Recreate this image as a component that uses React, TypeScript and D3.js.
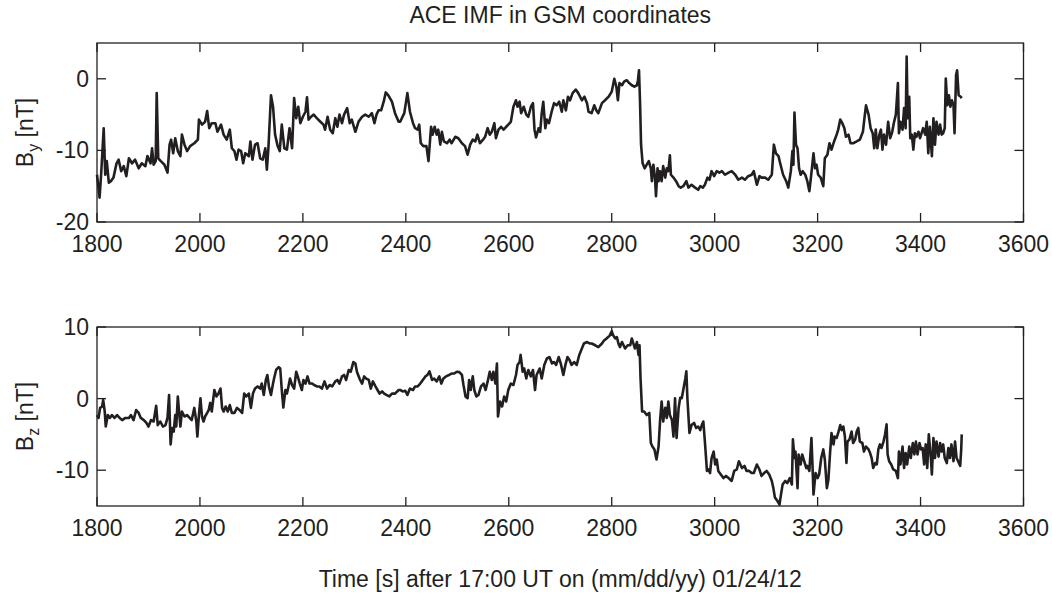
import React from "react";
import * as d3 from "d3";

const byTime = [1800,1805,1808,1813,1816,1819,1823,1827,1832,1838,1842,1847,1852,1857,1862,1868,1874,1881,1887,1894,1898,1904,1907,1910,1914,1916,1919,1924,1931,1937,1941,1944,1948,1952,1957,1962,1965,1970,1975,1981,1989,1996,1998,2004,2010,2014,2018,2023,2030,2034,2041,2046,2052,2058,2062,2067,2071,2075,2080,2084,2088,2095,2098,2102,2107,2112,2117,2122,2127,2130,2133,2138,2142,2146,2151,2155,2159,2164,2169,2174,2179,2183,2187,2191,2195,2200,2205,2208,2211,2216,2221,2227,2234,2240,2243,2248,2253,2258,2263,2267,2271,2276,2280,2286,2291,2295,2302,2308,2315,2321,2328,2334,2339,2343,2347,2352,2357,2361,2366,2373,2379,2386,
2389,2397,2403,2408,2414,2418,2423,2426,2429,2434,2440,2444,2449,2452,2456,2460,2463,2467,2470,2474,2480,2485,2489,2496,2502,2509,2515,2520,2525,2530,2535,2539,2544,2550,2554,2559,2563,2567,2572,2575,2580,2585,2590,2595,2599,2604,2609,2614,2617,2621,2624,2629,2634,2638,2643,2647,2650,2653,2658,2661,2664,2667,2671,2674,2678,2684,2688,2693,2698,2703,2706,2711,2715,2719,2724,2730,2735,2742,2747,2752,2755,2761,2766,2770,2774,2781,2787,2794,2800,2805,2809,2812,2815,2820,2824,2829,2834,2839,2844,2849,2851,2853,2855,2857,2860,2864,2868,2872,2876,2878,2881,2884,2886,2889,2891,2894,2897,2900,2904,2907,2910,2913,2915,2920,2925,2930,2934,2939,2945,2949,2955,2962,2968,
2972,2977,2981,2986,2990,2994,2999,3004,3009,3014,3020,3027,3033,3040,3046,3053,3059,3065,3072,3076,3082,3087,3091,3098,3104,3111,3115,3119,3124,3128,3133,3139,3143,3148,3151,3153,3155,3158,3161,3164,3167,3171,3176,3180,3184,3187,3192,3195,3198,3201,3206,3211,3214,3219,3223,3227,3232,3237,3240,3244,3248,3252,3255,3260,3264,3269,3276,3282,3288,3291,3294,3299,3303,3307,3310,3313,3316,3320,3323,3326,3329,3333,3337,3341,3345,3348,3352,3356,3358,3361,3365,3368,3371,3373,3375,3378,3380,3383,3386,3389,3392,3396,3399,3402,3405,3409,3412,3415,3418,3422,3425,3428,3431,3435,3438,3441,3444,3447,3449,3452,3455,3458,3461,3464,3466,3469,3471,3474,3478,3480];

const byValue = [-13.4,-16.6,-13.4,-6.9,-13.4,-11.5,-14.5,-14.3,-13.8,-11.8,-11.3,-12.9,-12.2,-13.6,-11.1,-11.8,-11.3,-12.5,-11.8,-12.2,-10.8,-11.8,-9.7,-12.0,-11.5,-2.0,-11.1,-11.5,-12.0,-13.1,-9.2,-8.5,-10.4,-8.3,-10.1,-10.8,-7.8,-9.2,-10.1,-9.4,-9.0,-8.5,-5.7,-6.4,-6.0,-4.5,-6.9,-6.2,-6.2,-7.4,-6.4,-7.8,-8.5,-7.1,-9.7,-10.1,-11.3,-9.9,-10.1,-11.8,-10.4,-10.8,-8.75,-11.3,-9.2,-9.0,-11.1,-11.3,-9.7,-12.7,-9.7,-2.3,-3.9,-7.8,-9.4,-10.1,-6.4,-9.7,-9.9,-6.9,-9.7,-2.7,-5.5,-3.9,-6.2,-5.3,-4.6,-2.6,-5.7,-5.3,-5.0,-5.5,-6.0,-6.4,-7.1,-5.3,-7.1,-7.6,-5.5,-6.7,-5.0,-6.2,-5.0,-4.1,-6.2,-5.7,-7.4,-6.0,-5.3,-5.0,-5.3,-4.8,-6.2,-5.0,-4.4,-4.4,-3.2,-1.9,-2.3,-3.2,-4.8,-6.0,
-6.0,-4.8,-2.0,-4.6,-6.2,-6.9,-7.1,-6.4,-9.0,-9.4,-9.4,-11.5,-6.7,-7.8,-6.7,-7.8,-7.1,-9.2,-7.4,-8.75,-9.0,-8.5,-9.0,-8.1,-8.3,-9.0,-9.4,-10.6,-9.2,-8.5,-8.75,-7.8,-9.0,-8.5,-8.1,-6.9,-7.8,-7.4,-6.2,-8.3,-7.1,-6.7,-7.1,-6.7,-6.4,-6.0,-3.9,-3.0,-3.9,-3.2,-4.8,-3.9,-5.0,-5.3,-3.9,-3.4,-7.1,-8.2,-6.9,-7.4,-4.8,-3.2,-6.9,-5.7,-6.2,-4.4,-3.4,-3.7,-3.2,-4.6,-3.0,-4.4,-2.5,-3.0,-2.0,-1.5,-2.0,-3.0,-2.5,-3.4,-4.6,-4.8,-3.7,-4.4,-4.8,-3.4,-3.0,-2.5,-1.8,0.0,-1.1,-3.0,-0.6,-0.9,-0.4,-0.2,-0.6,-0.9,-1.1,-0.9,-0.2,1.2,-3.2,-9.2,-11.8,-12.5,-12.0,-11.5,-12.5,-14.3,-12.0,-13.8,-16.4,-12.5,-14.3,-12.9,-14.3,-12.2,-13.8,-12.5,-12.9,-10.7,-13.4,-13.8,-14.3,-15.0,-15.2,-15.0,-14.3,-15.2,-14.8,-15.2,-15.5,
-15.0,-15.2,-14.8,-13.8,-14.1,-12.9,-13.6,-12.9,-13.1,-12.9,-13.4,-13.1,-12.9,-13.4,-14.1,-13.8,-14.1,-13.6,-13.4,-12.9,-14.8,-13.6,-13.8,-13.8,-14.1,-13.4,-9.2,-10.4,-10.8,-12.0,-13.4,-14.3,-15.2,-12.9,-10.1,-12.0,-4.7,-9.2,-9.7,-12.5,-13.4,-12.9,-13.4,-14.3,-15.7,-13.8,-10.4,-12.5,-12.0,-13.4,-13.8,-15.0,-11.1,-10.6,-9.0,-9.9,-8.75,-7.8,-7.1,-5.7,-6.2,-6.9,-8.1,-7.8,-9.0,-9.0,-8.75,-8.5,-7.4,-5.5,-3.7,-5.0,-6.9,-7.6,-9.7,-7.1,-9.7,-7.8,-7.1,-9.9,-7.8,-9.2,-6.0,-8.3,-7.4,-6.2,-5.0,-0.6,-7.6,-6.0,-7.1,-4.1,-6.9,3.1,-5.5,-2.5,-8.3,-7.8,-9.9,-7.6,-8.1,-7.4,-8.3,-7.6,-6.9,-7.8,-6.0,-10.4,-6.7,-10.8,-5.5,-9.2,-6.0,-7.8,-6.4,-7.8,-7.6,-6.9,0.05,-3.7,-2.3,-3.9,-3.0,-3.7,-7.6,0.5,1.2,-2.3,-2.5,-2.7];

const bzTime = [1800,1803,1806,1810,1812,1815,1817,1821,1825,1829,1834,1839,1844,1849,1855,1862,1866,1871,1876,1881,1885,1891,1896,1900,1905,1910,1915,1918,1923,1928,1933,1937,1940,1943,1946,1949,1952,1954,1957,1960,1962,1965,1970,1975,1980,1984,1989,1993,1995,1998,2001,2004,2007,2010,2014,2017,2020,2023,2028,2032,2036,2040,2043,2046,2050,2054,2058,2062,2067,2072,2077,2082,2086,2090,2095,2099,2103,2107,2112,2117,2120,2124,2128,2131,2134,2138,2142,2144,2148,2153,2156,2159,2162,2166,2169,2172,2175,2179,2183,2187,2190,2194,2198,2201,2205,2209,2213,2218,2222,2227,2232,2237,2242,2247,2252,2257,2263,2267,2271,2276,2280,2284,2289,2293,2298,2302,2305,2310,2315,2319,2323,2328,2332,2336,2341,2345,2349,2354,2358,2363,2368,2373,2379,2386,
2389,2394,2399,2403,2408,2414,2418,2423,2428,2433,2438,2442,2446,2451,2455,2460,2465,2469,2473,2478,2484,2489,2494,2499,2504,2509,2512,2516,2520,2523,2526,2530,2533,2537,2541,2546,2551,2555,2559,2563,2567,2570,2574,2577,2579,2583,2587,2591,2595,2599,2604,2609,2614,2617,2621,2623,2627,2630,2634,2638,2643,2647,2651,2654,2660,2664,2669,2674,2679,2684,2688,2692,2697,2701,2706,2710,2714,2718,2722,2727,2732,2737,2742,2746,2752,2757,2761,2768,2774,2781,2785,2790,2796,2800,2803,2807,2810,2813,2816,2820,2823,2826,2831,2836,2839,2842,2845,2849,2852,2854,2856,2859,2863,2868,2873,2876,2879,2883,2887,2891,2894,2897,2900,2904,2907,2910,2913,2917,2920,2923,2926,2930,2933,2936,2939,2943,2945,2947,2951,2955,2960,2964,2968,
2972,2975,2978,2981,2985,2988,2991,2994,2998,3001,3004,3007,3012,3017,3022,3027,3033,3038,3043,3047,3053,3058,3062,3067,3072,3076,3082,3087,3091,3096,3101,3106,3111,3114,3117,3122,3126,3128,3132,3137,3141,3146,3150,3152,3155,3157,3161,3163,3167,3170,3174,3178,3180,3184,3188,3190,3192,3196,3200,3203,3207,3211,3214,3218,3221,3224,3227,3231,3233,3237,3240,3244,3247,3250,3253,3256,3258,3262,3266,3269,3273,3276,3279,3282,3287,3290,3294,3299,3302,3305,3308,3312,3315,3318,3321,3324,3328,3331,3334,3336,3339,3343,3347,3352,3356,3358,3361,3365,3368,3371,3374,3378,3381,3385,3388,3391,3394,3398,3401,3404,3407,3410,3413,3416,3420,3422,3425,3428,3431,3435,3438,3441,3444,3447,3451,3454,3457,3460,3464,3467,3470,3473,3477,3479,3480];

const bzValue = [-2.3,-2.7,-1.3,-1.1,-0.2,-1.8,-3.9,-2.3,-2.7,-2.3,-2.7,-2.3,-2.7,-3.0,-2.7,-2.7,-2.3,-3.0,-1.6,-2.0,-2.7,-3.0,-3.4,-3.9,-3.0,-3.2,-1.0,-3.7,-3.2,-3.9,-3.7,-2.7,0.5,-6.4,-4.1,-4.6,-2.3,-3.9,0.3,-2.3,-3.9,-1.8,-2.5,-2.3,-2.7,-3.0,-1.3,-3.2,-5.3,-2.3,0.05,-2.5,-3.2,-2.5,-2.0,-1.6,-0.6,-1.8,1.2,0.3,0.7,1.4,-1.3,-1.8,-1.1,-1.8,-0.9,-2.0,-2.0,-1.3,-1.6,-2.0,0.7,0.3,0.7,-1.3,0.7,1.4,1.7,1.4,2.1,0.5,2.6,3.3,1.7,0.5,2.1,2.8,4.0,4.4,4.2,1.2,-1.25,1.2,0.7,1.7,2.8,1.9,1.4,3.75,3.1,2.1,1.2,2.6,2.1,3.1,2.1,2.1,1.9,1.7,1.7,1.4,2.4,1.4,1.9,1.7,2.4,2.6,2.1,3.1,3.3,2.6,4.0,3.75,5.1,4.9,3.75,2.8,2.1,3.1,2.8,2.6,1.4,2.4,1.7,1.2,0.7,1.0,0.7,0.5,0.3,0.7,0.7,1.2,
1.2,1.0,1.1,0.5,1.4,1.2,1.7,1.7,2.1,2.6,3.1,3.3,3.8,2.6,2.8,2.4,3.1,2.1,2.8,3.1,3.3,3.5,3.5,3.75,3.7,3.3,1.9,0.3,0.05,2.6,1.2,3.1,1.2,0.3,0.5,1.7,2.1,1.2,2.4,3.75,2.6,3.75,2.1,4.9,-2.5,-0.4,-1.1,0.3,-0.4,1.2,2.1,1.9,3.3,4.7,5.1,6.1,3.75,4.2,2.8,4.0,3.1,4.0,1.2,3.3,4.2,2.8,4.7,5.6,5.8,4.9,5.1,4.7,5.8,4.9,3.3,4.7,5.8,5.4,4.7,5.1,4.7,6.1,7.0,7.7,7.9,7.7,7.7,7.45,7.2,7.7,8.1,8.4,8.8,9.4,8.8,8.4,8.6,7.7,7.2,7.9,7.45,7.0,7.45,7.45,8.4,7.7,7.0,7.9,6.1,7.45,2.8,-1.8,-1.8,-2.3,-2.0,-6.2,-6.7,-7.1,-8.5,-6.7,-3.0,-0.4,-3.2,-1.3,-2.7,-0.4,-2.3,-3.0,-5.3,0.05,-5.5,-1.3,0.1,0.05,1.2,2.8,3.8,0.05,-4.8,-3.7,-3.4,-4.1,-3.9,
-4.4,-3.7,-3.2,-6.0,-10.1,-9.9,-10.4,-8.3,-7.4,-9.2,-8.5,-10.1,-10.6,-11.1,-10.8,-11.1,-11.5,-10.1,-9.9,-8.75,-9.7,-9.4,-10.1,-10.1,-10.4,-10.4,-9.2,-9.9,-10.8,-10.4,-10.1,-10.6,-11.5,-12.5,-13.8,-14.3,-14.8,-13.8,-12.0,-11.5,-11.8,-11.1,-12.0,-5.7,-8.3,-7.4,-12.5,-7.8,-9.2,-7.8,-8.75,-9.7,-9.4,-10.1,-5.5,-9.2,-13.4,-10.4,-11.1,-10.6,-8.3,-7.1,-8.5,-12.5,-11.3,-7.8,-4.8,-6.4,-5.3,-5.5,-4.8,-3.7,-4.4,-3.9,-5.3,-9.0,-6.0,-5.7,-4.6,-6.2,-5.7,-4.6,-4.1,-6.0,-6.2,-7.4,-6.7,-7.1,-7.6,-8.3,-9.7,-9.0,-9.2,-7.1,-6.4,-6.9,-6.0,-5.0,-3.6,-7.8,-8.75,-9.2,-9.9,-10.1,-11.1,-7.4,-9.2,-6.7,-9.7,-7.6,-9.2,-6.7,-8.3,-6.2,-7.8,-6.0,-7.8,-6.2,-7.1,-6.9,-9.2,-6.4,-9.7,-5.0,-8.3,-10.6,-5.5,-8.3,-6.0,-8.1,-6.2,-7.4,-6.4,-8.3,-9.0,-6.9,-8.3,-6.4,-8.75,-6.0,-8.3,-8.75,-9.4,-7.1,-5.0];

const xTicks = [1800, 2000, 2200, 2400, 2600, 2800, 3000, 3200, 3400, 3600];
const byTicks = [-20, -10, 0];
const bzTicks = [-10, 0, 10];
const titleText = "ACE IMF in GSM coordinates";
const xLabelText = "Time [s] after 17:00 UT on (mm/dd/yy) 01/24/12";

const W = 1052;
const H = 596;
const LEFT = 97;
const RIGHT = 1023.5;
const INK = "#231f20";
const FONT = "'Liberation Sans', Arial, Helvetica, sans-serif";
const FS = 23;

type PanelProps = {
  top: number;
  bottom: number;
  domain: [number, number];
  yTicks: number[];
  times: number[];
  values: number[];
  sub: string;
};

function Panel({ top, bottom, domain, yTicks, times, values, sub }: PanelProps) {
  const x = d3.scaleLinear().domain([1800, 3600]).range([LEFT, RIGHT]);
  const y = d3.scaleLinear().domain(domain).range([bottom, top]);
  const pts: [number, number][] = times.map((t, i) => [t, values[i]]);
  const line = d3
    .line<[number, number]>()
    .x((d) => x(d[0]))
    .y((d) => y(d[1]));
  const tl = 9;
  const cy = (top + bottom) / 2;
  return (
    <g>
      <path d={line(pts) || ""} fill="none" stroke={INK} strokeWidth={2.6} strokeLinejoin="round" />
      <rect x={LEFT} y={top} width={RIGHT - LEFT} height={bottom - top} fill="none" stroke={INK} strokeWidth={1.3} />
      {xTicks.map((t) => (
        <g key={"x" + t}>
          <line x1={x(t)} x2={x(t)} y1={bottom} y2={bottom - tl} stroke={INK} strokeWidth={1.3} />
          <line x1={x(t)} x2={x(t)} y1={top} y2={top + tl} stroke={INK} strokeWidth={1.3} />
          <text x={x(t)} y={bottom + 30} textAnchor="middle" fontSize={FS} fontFamily={FONT} fill={INK}>
            {t}
          </text>
        </g>
      ))}
      {yTicks.map((v) => (
        <g key={"y" + v}>
          <line x1={LEFT} x2={LEFT + tl} y1={y(v)} y2={y(v)} stroke={INK} strokeWidth={1.3} />
          <line x1={RIGHT} x2={RIGHT - tl} y1={y(v)} y2={y(v)} stroke={INK} strokeWidth={1.3} />
          <text x={89} y={y(v) + 8} textAnchor="end" fontSize={FS} fontFamily={FONT} fill={INK}>
            {v}
          </text>
        </g>
      ))}
      <text transform={`translate(33, ${cy}) rotate(-90)`} textAnchor="middle" fontSize={FS} fontFamily={FONT} fill={INK}>
        B
        <tspan fontSize={16} dy={6}>{sub}</tspan>
        <tspan dy={-6}>{" [nT]"}</tspan>
      </text>
    </g>
  );
}

export default function App() {
  return (
    <svg
      width={W}
      height={H}
      style={{ position: "absolute", left: 0, top: 0, background: "#fff" }}
    >
      <rect x={0} y={0} width={W} height={H} fill="#fff" />
      <text x={(LEFT + RIGHT) / 2} y={23} textAnchor="middle" fontSize={FS} fontFamily={FONT} fill={INK}>
        {titleText}
      </text>
      <Panel top={43} bottom={222} domain={[-20, 5]} yTicks={byTicks} times={byTime} values={byValue} sub="y" />
      <Panel top={327} bottom={506} domain={[-15, 10]} yTicks={bzTicks} times={bzTime} values={bzValue} sub="z" />
      <text x={(LEFT + RIGHT) / 2} y={587} textAnchor="middle" fontSize={FS} fontFamily={FONT} fill={INK}>
        {xLabelText}
      </text>
    </svg>
  );
}
